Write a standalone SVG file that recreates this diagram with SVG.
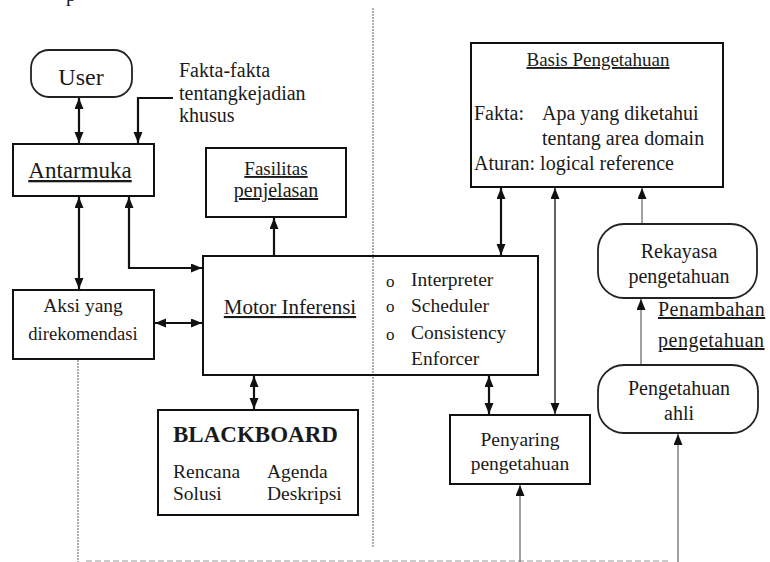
<svg xmlns="http://www.w3.org/2000/svg" width="770" height="562" viewBox="0 0 770 562">
  <style>
    text { font-family: "Liberation Serif", "Times New Roman", serif; fill: #1a1a1a; }
    .box { fill: none; stroke: #111; stroke-width: 2; }
    .pill { fill: #fff; stroke: #222; stroke-width: 1.8; }
    .c { text-anchor: middle; }
    .u { text-decoration: underline; }
    .conn { fill: none; stroke: #111; stroke-width: 2.2; }
    .thin { fill: none; stroke: #222; stroke-width: 1.4; }
    .grey { fill: none; stroke: #888; stroke-width: 1.6; }
    .divider { fill: none; stroke: #9a9a9a; stroke-width: 1.6; stroke-dasharray: 2 1; }
  </style>
  <defs>
    <marker id="ah" markerUnits="userSpaceOnUse" markerWidth="11" markerHeight="10" refX="11" refY="4.5" orient="auto-start-reverse">
      <path d="M0,0 L11,4.5 L0,9 z" fill="#111"/>
    </marker>
  </defs>

  <rect width="770" height="562" fill="#fff"/>

  <!-- page dividers -->
  <g id="dividers">
    <line class="divider" x1="373" y1="8" x2="373" y2="547"/>
    <line class="divider" x1="78" y1="360" x2="78" y2="562"/>
    <line x1="86" y1="561" x2="670" y2="561" stroke="#bbb" stroke-width="1.5" stroke-dasharray="6 3"/>
    <text x="66" y="1" font-size="20">p</text>
  </g>

  <!-- connectors -->
  <g id="connectors">
    <path class="conn" d="M79,98 V143" marker-start="url(#ah)" marker-end="url(#ah)"/>
    <path class="conn" d="M173,98 H138 V143" marker-end="url(#ah)"/>
    <path class="conn" d="M79,197 V289" marker-start="url(#ah)" marker-end="url(#ah)"/>
    <path class="conn" d="M129,197 V268 H202" marker-start="url(#ah)" marker-end="url(#ah)"/>
    <path class="conn" d="M274,255 V218" marker-end="url(#ah)"/>
    <path class="conn" d="M155,323 H202" marker-start="url(#ah)" marker-end="url(#ah)"/>
    <path class="conn" d="M254,376 V409" marker-start="url(#ah)" marker-end="url(#ah)"/>
    <path class="conn" d="M501,188 V255" marker-start="url(#ah)" marker-end="url(#ah)"/>
    <path class="thin" d="M555,188 V414" marker-start="url(#ah)" marker-end="url(#ah)"/>
    <path class="conn" d="M489,376 V414" marker-start="url(#ah)" marker-end="url(#ah)"/>
    <path class="grey" d="M642,224 V188" marker-end="url(#ah)"/>
    <path class="grey" d="M641,365 V299" marker-end="url(#ah)"/>
    <path class="grey" d="M678,562 V434" marker-end="url(#ah)"/>
    <path class="grey" d="M520,562 V485" marker-end="url(#ah)"/>
  </g>

  <g id="user">
    <rect class="pill" x="31" y="50" width="101" height="47" rx="18"/>
    <text class="c" x="81" y="85" font-size="24">User</text>
  </g>

  <g id="label-fakta">
    <text x="179" y="77" font-size="20">Fakta-fakta</text>
    <text x="179" y="100" font-size="20">tentangkejadian</text>
    <text x="179" y="122" font-size="20">khusus</text>
  </g>

  <g id="antarmuka">
    <rect class="box" x="13" y="144" width="141" height="52"/>
    <text class="c u" x="80" y="178" font-size="23">Antarmuka</text>
  </g>

  <g id="fasilitas">
    <rect class="box" x="206" y="148" width="140" height="69"/>
    <text class="c u" x="276" y="175" font-size="19">Fasilitas</text>
    <text class="c u" x="276" y="197" font-size="20">penjelasan</text>
  </g>

  <g id="aksi">
    <rect class="box" x="13" y="290" width="141" height="69"/>
    <text class="c" x="83" y="312" font-size="19.5">Aksi yang</text>
    <text class="c" x="83" y="340" font-size="18.6">direkomendasi</text>
  </g>

  <g id="motor">
    <rect class="box" x="203" y="256" width="335" height="119"/>
    <text class="c u" x="290" y="314" font-size="21">Motor Inferensi</text>
    <text x="386" y="287" font-size="17">o</text>
    <text x="386" y="312" font-size="17">o</text>
    <text x="386" y="340" font-size="17">o</text>
    <text x="411" y="286" font-size="19.5">Interpreter</text>
    <text x="411" y="312" font-size="19.5">Scheduler</text>
    <text x="411" y="339" font-size="19.5">Consistency</text>
    <text x="411" y="365" font-size="19.5">Enforcer</text>
  </g>

  <g id="blackboard">
    <rect class="box" x="158" y="410" width="200" height="105"/>
    <text x="173" y="442" font-size="23" font-weight="bold">BLACKBOARD</text>
    <text x="173" y="478" font-size="19.5">Rencana</text>
    <text x="173" y="500" font-size="19.5">Solusi</text>
    <text x="267" y="478" font-size="19.5">Agenda</text>
    <text x="267" y="500" font-size="19.5">Deskripsi</text>
  </g>

  <g id="basis">
    <rect class="box" x="471" y="43" width="252" height="144"/>
    <text class="c u" x="598" y="66" font-size="19">Basis Pengetahuan</text>
    <text x="474" y="120" font-size="20">Fakta:</text>
    <text x="542" y="120" font-size="20">Apa yang diketahui</text>
    <text x="542" y="145" font-size="20">tentang area domain</text>
    <text x="474" y="170" font-size="20">Aturan: logical reference</text>
  </g>

  <g id="rekayasa">
    <rect class="pill" x="598" y="224" width="159" height="74" rx="26"/>
    <text class="c" x="679" y="258" font-size="20">Rekayasa</text>
    <text class="c" x="679" y="283" font-size="20">pengetahuan</text>
  </g>

  <g id="label-penambahan">
    <text class="u" x="658" y="316" font-size="20" letter-spacing="0.5">Penambahan</text>
    <text class="u" x="658" y="347" font-size="20" letter-spacing="0.5">pengetahuan</text>
  </g>

  <g id="ahli">
    <rect class="pill" x="598" y="365" width="160" height="68" rx="26"/>
    <text class="c" x="679" y="395" font-size="20">Pengetahuan</text>
    <text class="c" x="679" y="420" font-size="20">ahli</text>
  </g>

  <g id="penyaring">
    <rect class="box" x="450" y="415" width="140" height="69"/>
    <text class="c" x="520" y="446" font-size="19.5">Penyaring</text>
    <text class="c" x="520" y="470" font-size="19.5">pengetahuan</text>
  </g>
</svg>
